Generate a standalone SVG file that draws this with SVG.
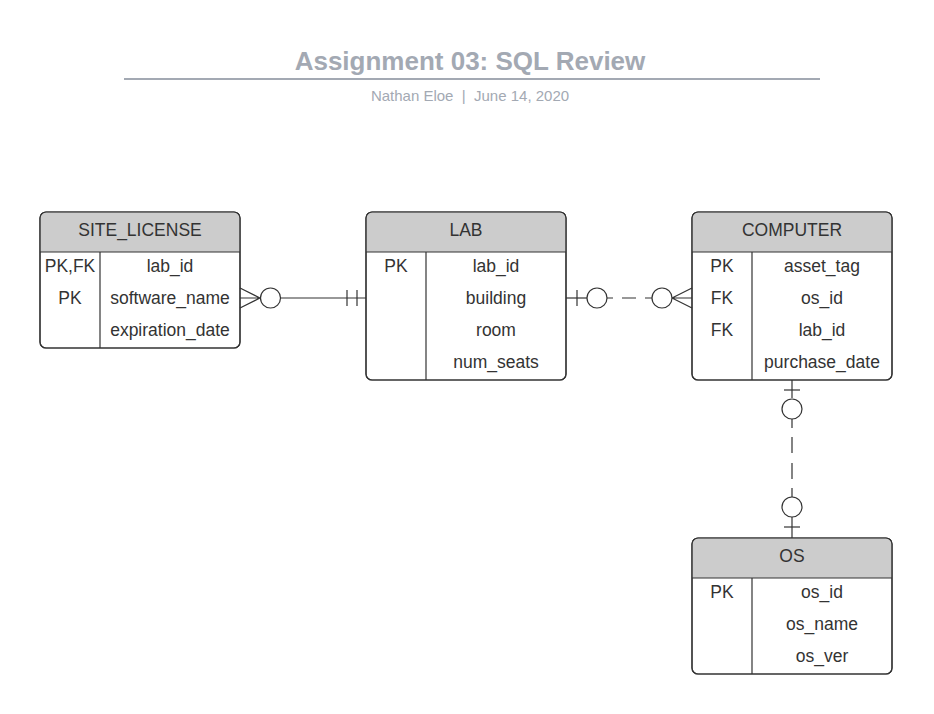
<svg xmlns="http://www.w3.org/2000/svg" width="934" height="714" viewBox="0 0 934 714">
<style>
.box{fill:#ffffff;stroke:#333333;stroke-width:1.2}
.hdr{fill:#cccccc;stroke:none}
.ln{stroke:#333333;stroke-width:1.2;fill:none}
.t{font-family:"Liberation Sans",Arial,sans-serif;font-size:17.5px;fill:#333333;text-anchor:middle}
.cn{stroke:#333333;stroke-width:1.2;fill:none}
.ci{stroke:#333333;stroke-width:1.2;fill:#ffffff}
</style>
<rect width="934" height="714" fill="#ffffff"/>
<g id="title">
<text x="470" y="70" font-family="'Liberation Sans',Arial,sans-serif" font-size="26" font-weight="bold" fill="#a3a9b3" text-anchor="middle">Assignment 03: SQL Review</text>
<line x1="124" y1="79" x2="820" y2="79" stroke="#a3a9b3" stroke-width="2"/>
<text x="470" y="101" font-family="'Liberation Sans',Arial,sans-serif" font-size="15" fill="#a3a9b3" text-anchor="middle" xml:space="preserve">Nathan Eloe  |  June 14, 2020</text>
</g>
<g id="SITE_LICENSE">
<rect class="box" x="40" y="212" width="200" height="136" rx="6"/>
<path class="hdr" d="M40.6,252 V218 A6,6 0 0 1 46,212.6 H234 A6,6 0 0 1 239.4,218 V252 Z"/>
<rect x="40" y="212" width="200" height="136" rx="6" fill="none" stroke="#333333" stroke-width="1.2"/>
<line class="ln" x1="40" y1="252" x2="240" y2="252"/>
<line class="ln" x1="100" y1="252" x2="100" y2="348"/>
<text class="t" x="140" y="236">SITE_LICENSE</text>
<text class="t" x="70" y="272">PK,FK</text>
<text class="t" x="170" y="272">lab_id</text>
<text class="t" x="70" y="304">PK</text>
<text class="t" x="170" y="304">software_name</text>
<text class="t" x="170" y="336">expiration_date</text>
</g>
<g id="LAB">
<rect class="box" x="366" y="212" width="200" height="168" rx="6"/>
<path class="hdr" d="M366.6,252 V218 A6,6 0 0 1 372,212.6 H560 A6,6 0 0 1 565.4,218 V252 Z"/>
<rect x="366" y="212" width="200" height="168" rx="6" fill="none" stroke="#333333" stroke-width="1.2"/>
<line class="ln" x1="366" y1="252" x2="566" y2="252"/>
<line class="ln" x1="426" y1="252" x2="426" y2="380"/>
<text class="t" x="466" y="236">LAB</text>
<text class="t" x="396" y="272">PK</text>
<text class="t" x="496" y="272">lab_id</text>
<text class="t" x="496" y="304">building</text>
<text class="t" x="496" y="336">room</text>
<text class="t" x="496" y="368">num_seats</text>
</g>
<g id="COMPUTER">
<rect class="box" x="692" y="212" width="200" height="168" rx="6"/>
<path class="hdr" d="M692.6,252 V218 A6,6 0 0 1 698,212.6 H886 A6,6 0 0 1 891.4,218 V252 Z"/>
<rect x="692" y="212" width="200" height="168" rx="6" fill="none" stroke="#333333" stroke-width="1.2"/>
<line class="ln" x1="692" y1="252" x2="892" y2="252"/>
<line class="ln" x1="752" y1="252" x2="752" y2="380"/>
<text class="t" x="792" y="236">COMPUTER</text>
<text class="t" x="722" y="272">PK</text>
<text class="t" x="822" y="272">asset_tag</text>
<text class="t" x="722" y="304">FK</text>
<text class="t" x="822" y="304">os_id</text>
<text class="t" x="722" y="336">FK</text>
<text class="t" x="822" y="336">lab_id</text>
<text class="t" x="822" y="368">purchase_date</text>
</g>
<g id="OS">
<rect class="box" x="692" y="538" width="200" height="136" rx="6"/>
<path class="hdr" d="M692.6,578 V544 A6,6 0 0 1 698,538.6 H886 A6,6 0 0 1 891.4,544 V578 Z"/>
<rect x="692" y="538" width="200" height="136" rx="6" fill="none" stroke="#333333" stroke-width="1.2"/>
<line class="ln" x1="692" y1="578" x2="892" y2="578"/>
<line class="ln" x1="752" y1="578" x2="752" y2="674"/>
<text class="t" x="792" y="562">OS</text>
<text class="t" x="722" y="598">PK</text>
<text class="t" x="822" y="598">os_id</text>
<text class="t" x="822" y="630">os_name</text>
<text class="t" x="822" y="662">os_ver</text>
</g>
<g id="connectors">
<!-- SITE_LICENSE to LAB -->
<path class="cn" d="M240,288 L260,298 M240,298 L260,298 M240,308 L260,298"/>
<circle class="ci" cx="270.5" cy="298" r="10"/>
<line class="cn" x1="280.5" y1="298" x2="366" y2="298"/>
<line class="cn" x1="347" y1="290" x2="347" y2="306"/>
<line class="cn" x1="357" y1="290" x2="357" y2="306"/>
<!-- LAB to COMPUTER -->
<line class="cn" x1="566" y1="298" x2="587" y2="298"/>
<line class="cn" x1="577" y1="290" x2="577" y2="306"/>
<circle class="ci" cx="597" cy="298" r="10"/>
<path class="cn" d="M607,298 H613 M622,298 H636 M645,298 H652"/>
<circle class="ci" cx="662" cy="298" r="10"/>
<path class="cn" d="M692,288 L672,298 M692,298 L672,298 M692,308 L672,298"/>
<!-- COMPUTER to OS -->
<line class="cn" x1="792" y1="380" x2="792" y2="398"/>
<line class="cn" x1="784" y1="390" x2="800" y2="390"/>
<circle class="ci" cx="792" cy="409" r="10"/>
<path class="cn" d="M792,419 V428 M792,437 V453 M792,463 V479 M792,488 V497"/>
<circle class="ci" cx="792" cy="507" r="10"/>
<line class="cn" x1="792" y1="517" x2="792" y2="538"/>
<line class="cn" x1="784" y1="527" x2="800" y2="527"/>
</g>
</svg>
